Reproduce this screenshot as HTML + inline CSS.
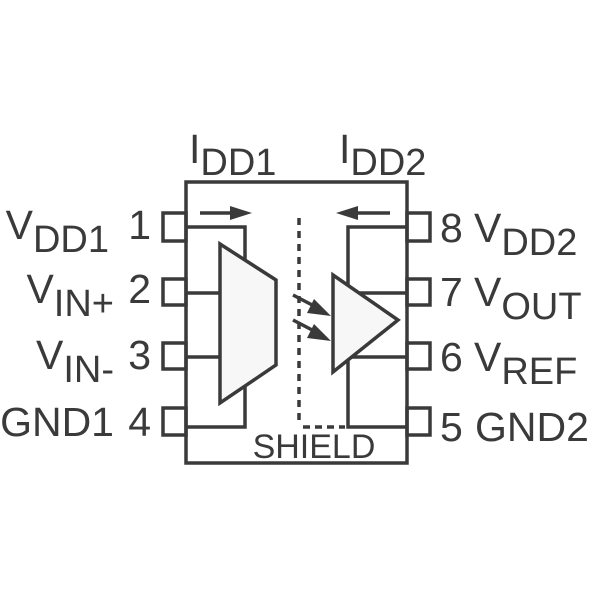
<!DOCTYPE html>
<html><head><style>body{margin:0;background:#fff}svg{display:block}</style></head><body>
<svg width="600" height="600" viewBox="0 0 600 600" xmlns="http://www.w3.org/2000/svg">
<g fill="none" stroke="#3a3a3a" stroke-width="3.5">
<rect x="186" y="182" width="221" height="281" fill="#fff"/>
<rect x="163" y="213" width="23" height="28"/>
<rect x="163" y="279" width="23" height="26"/>
<rect x="163" y="343" width="23" height="26"/>
<rect x="163" y="408" width="23" height="27"/>
<rect x="407" y="213" width="23" height="28"/>
<rect x="407" y="279" width="23" height="26"/>
<rect x="407" y="343" width="23" height="26"/>
<rect x="407" y="408" width="23" height="27"/>
<polyline points="186,227 245,227 245,427 186,427"/>
<line x1="186" y1="293" x2="220" y2="293"/>
<line x1="186" y1="357" x2="220" y2="357"/>
<polygon points="220,244 276,280 276,365 220,403" fill="#f7f7f7"/>
<polyline points="407,227 348,227 348,427 407,427"/>
<line x1="348" y1="293" x2="407" y2="293"/>
<line x1="348" y1="357" x2="407" y2="357"/>
<polygon points="333,275 398,320 333,372" fill="#f7f7f7"/>
<line x1="299" y1="218" x2="299" y2="422" stroke-dasharray="7,6"/>
<line x1="303" y1="427" x2="345" y2="427" stroke-dasharray="7,5"/>
<line x1="200" y1="213" x2="233" y2="213"/>
<line x1="357" y1="213" x2="390" y2="213"/>
<line x1="293" y1="295" x2="316" y2="307"/>
<line x1="293" y1="320" x2="316" y2="332"/>
</g>
<g fill="#3a3a3a">
<polygon points="252,213 230,206 230,220"/>
<polygon points="336,213 358,206 358,220"/>
<polygon points="331,316 314,299 307,313"/>
<polygon points="331,341 314,324 307,338"/>
</g>
<g font-family="Liberation Sans, sans-serif" font-size="41" fill="#3a3a3a">
<text x="189" y="163">I<tspan dy="12" font-size="38">DD1</tspan></text>
<text x="339" y="163">I<tspan dy="12" font-size="38">DD2</tspan></text>
<g text-anchor="end">
<text x="109" y="239">V<tspan dy="13" font-size="38">DD1</tspan></text>
<text x="114" y="303">V<tspan dy="13" font-size="38">IN+</tspan></text>
<text x="114" y="369">V<tspan dy="13" font-size="38">IN-</tspan></text>
<text x="114" y="436">GND1</text>
<text x="151" y="239">1</text><text x="151" y="303">2</text><text x="151" y="369">3</text><text x="151" y="436">4</text></g>
<text x="440" y="242">8</text><text x="440" y="306">7</text><text x="440" y="371">6</text><text x="440" y="441">5</text>
<text x="474" y="242">V<tspan dy="13" font-size="38">DD2</tspan></text>
<text x="474" y="306">V<tspan dy="13" font-size="38">OUT</tspan></text>
<text x="474" y="371">V<tspan dy="13" font-size="38">REF</tspan></text>
<text x="475" y="441">GND2</text>
<text x="314" y="458" font-size="34" text-anchor="middle">SHIELD</text>
</g>
</svg>
</body></html>
